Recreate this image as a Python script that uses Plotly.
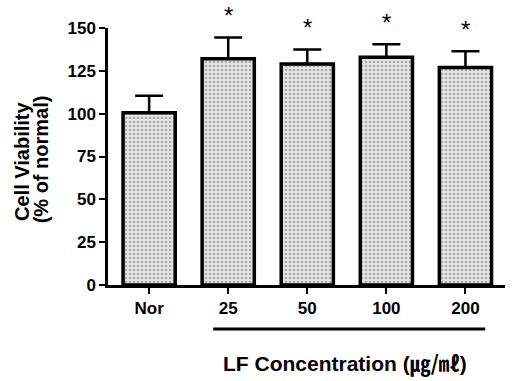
import plotly.graph_objects as go

categories = ["Nor", "25", "50", "100", "200"]
viability = [100.5, 132.0, 129.0, 133.0, 127.0]
sem = [10.0, 12.5, 8.5, 7.5, 9.5]
significant = [False, True, True, True, True]
y_ticks = [0, 25, 50, 75, 100, 125, 150]

FONT = "Arial, Liberation Sans, sans-serif"

fig = go.Figure()
fig.add_trace(go.Bar(
    x=list(range(len(categories))),
    y=viability,
    width=0.66,
    marker=dict(
        color="#e2e2e2",
        line=dict(color="black", width=3.5),
        pattern=dict(shape=".", fgcolor="#6e6e6e", bgcolor="#e6e6e6", size=4, solidity=0.35),
    ),
    error_y=dict(type="data", symmetric=False, array=sem, arrayminus=[0]*len(sem),
                 color="black", thickness=2.5, width=14),
    showlegend=False,
))

for i, (v, e, s) in enumerate(zip(viability, sem, significant)):
    if s:
        fig.add_annotation(x=i, y=v + e, text="*", showarrow=False, yanchor="bottom",
                           yshift=6, font=dict(family=FONT, size=24, color="black"))

fig.update_layout(
    width=514, height=381,
    margin=dict(l=108, r=9, t=28, b=96),
    plot_bgcolor="white", paper_bgcolor="white",
    xaxis=dict(
        range=[-0.52, 4.5],
        tickmode="array", tickvals=list(range(len(categories))), ticktext=categories,
        showline=True, linecolor="black", linewidth=2.5,
        ticks="outside", ticklen=6, tickwidth=2, tickcolor="black",
        tickfont=dict(family=FONT, size=17, color="black", weight="bold"),
        showgrid=False, zeroline=False,
    ),
    yaxis=dict(
        range=[0, 150],
        tickmode="array", tickvals=y_ticks,
        showline=True, linecolor="black", linewidth=2.5,
        ticks="outside", ticklen=6, tickwidth=2, tickcolor="black",
        tickfont=dict(family=FONT, size=17, color="black", weight="bold"),
        showgrid=False, zeroline=False,
    ),
    annotations=list(fig.layout.annotations) + [
        dict(text="Cell Viability", xref="paper", yref="paper",
             x=-0.217, y=0.482, textangle=-90, showarrow=False, xanchor="center", yanchor="middle",
             font=dict(family=FONT, size=20, color="black", weight="bold")),
        dict(text="(% of normal)", xref="paper", yref="paper",
             x=-0.170, y=0.487, textangle=-90, showarrow=False, xanchor="center", yanchor="middle",
             font=dict(family=FONT, size=20, color="black", weight="bold")),
        dict(text="LF Concentration (<span style='font-family:Noto Sans CJK KR'>㎍/㎖</span>)",
             xref="paper", yref="paper", x=0.598, y=-0.30, showarrow=False,
             xanchor="center", yanchor="middle",
             font=dict(family=FONT, size=21, color="black", weight="bold")),
    ],
    shapes=[dict(type="line", xref="x", yref="paper", x0=0.81, x1=4.25, y0=-0.171, y1=-0.171,
                 line=dict(color="black", width=3))],
)

fig.write_html("out.html")
